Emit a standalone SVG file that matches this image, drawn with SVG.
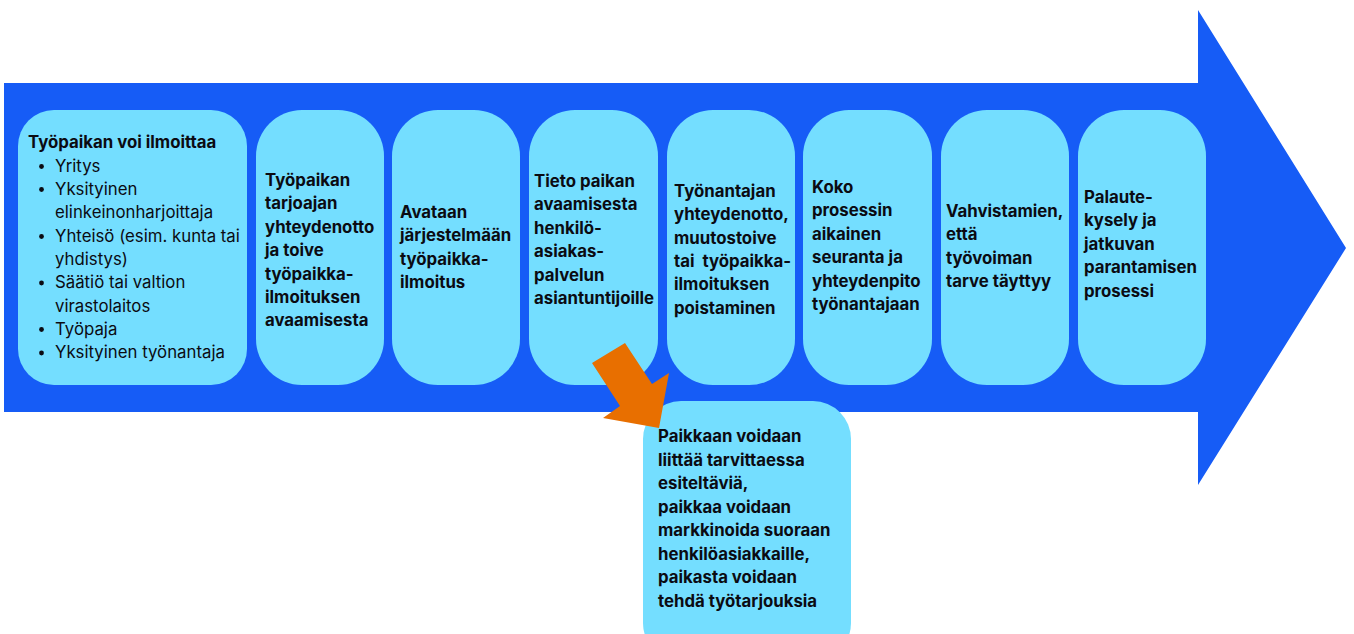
<svg xmlns="http://www.w3.org/2000/svg" width="1354" height="634" viewBox="0 0 1354 634">
<style>
.bg{fill:#ffffff}
.big{fill:#165CF6}
.box{fill:#74DEFF}
.t{font-family:Inter,"Liberation Sans",sans-serif;font-size:16.8px;fill:#0b0b12}
.b{font-weight:700}
.r{font-weight:400}
.or{fill:#E86F00}
</style>
<rect class="bg" x="0" y="0" width="1354" height="634"/>
<g id="main-arrow">
<polygon class="big" points="4,83 1198,83 1198,10 1346,248 1198,485 1198,412 4,412"/>
</g>
<g id="node1">
<rect class="box" x="18" y="110" width="229" height="275" rx="36"/>
<text class="t b" x="28" y="148">Työpaikan voi ilmoittaa</text>
<g class="t r">
<circle cx="41.5" cy="166.5" r="2.4" fill="#0b0b12"/>
<circle cx="41.5" cy="189.5" r="2.4" fill="#0b0b12"/>
<circle cx="41.5" cy="236.5" r="2.4" fill="#0b0b12"/>
<circle cx="41.5" cy="283" r="2.4" fill="#0b0b12"/>
<circle cx="41.5" cy="329.5" r="2.4" fill="#0b0b12"/>
<circle cx="41.5" cy="353" r="2.4" fill="#0b0b12"/>
<text x="55" y="172">Yritys</text>
<text x="55" y="195">Yksityinen</text>
<text x="55" y="218">elinkeinonharjoittaja</text>
<text x="55" y="242">Yhteisö (esim. kunta tai</text>
<text x="55" y="265">yhdistys)</text>
<text x="55" y="288">Säätiö tai valtion</text>
<text x="55" y="312">virastolaitos</text>
<text x="55" y="335">Työpaja</text>
<text x="55" y="358">Yksityinen työnantaja</text>
</g>
</g>
<g id="node2">
<rect class="box" x="256" y="110" width="128" height="275" rx="46"/>
<text class="t b" x="265" y="186">Työpaikan</text>
<text class="t b" x="265" y="209.4">tarjoajan</text>
<text class="t b" x="265" y="232.8">yhteydenotto</text>
<text class="t b" x="265" y="256.2">ja toive</text>
<text class="t b" x="265" y="279.6">työpaikka-</text>
<text class="t b" x="265" y="303">ilmoituksen</text>
<text class="t b" x="265" y="326.4">avaamisesta</text>
</g>
<g id="node3">
<rect class="box" x="392" y="110" width="128" height="275" rx="46"/>
<text class="t b" x="400" y="218">Avataan</text>
<text class="t b" x="400" y="241.4">järjestelmään</text>
<text class="t b" x="400" y="264.8">työpaikka-</text>
<text class="t b" x="400" y="288.2">ilmoitus</text>
</g>
<g id="node4">
<rect class="box" x="529" y="110" width="129" height="275" rx="46"/>
<text class="t b" x="534" y="187">Tieto paikan</text>
<text class="t b" x="534" y="210.4">avaamisesta</text>
<text class="t b" x="534" y="233.8">henkilö-</text>
<text class="t b" x="534" y="257.2">asiakas-</text>
<text class="t b" x="534" y="280.6">palvelun</text>
<text class="t b" x="534" y="304">asiantuntijoille</text>
</g>
<g id="node5">
<rect class="box" x="667" y="110" width="128" height="275" rx="46"/>
<text class="t b" x="674" y="197">Työnantajan</text>
<text class="t b" x="674" y="220.3">yhteydenotto,</text>
<text class="t b" x="674" y="243.6">muutostoive</text>
<text class="t b" x="674" y="266.9" xml:space="preserve">tai  työpaikka-</text>
<text class="t b" x="674" y="290.2">ilmoituksen</text>
<text class="t b" x="674" y="313.5">poistaminen</text>
</g>
<g id="node6">
<rect class="box" x="803" y="110" width="129" height="275" rx="46"/>
<text class="t b" x="812" y="193">Koko</text>
<text class="t b" x="812" y="216.4">prosessin</text>
<text class="t b" x="812" y="239.8">aikainen</text>
<text class="t b" x="812" y="263.2">seuranta ja</text>
<text class="t b" x="812" y="286.6">yhteydenpito</text>
<text class="t b" x="812" y="310">työnantajaan</text>
</g>
<g id="node7">
<rect class="box" x="941" y="110" width="128" height="275" rx="46"/>
<text class="t b" x="946" y="217">Vahvistamien,</text>
<text class="t b" x="946" y="240.4">että</text>
<text class="t b" x="946" y="263.8">työvoiman</text>
<text class="t b" x="946" y="287.2">tarve täyttyy</text>
</g>
<g id="node8">
<rect class="box" x="1078" y="110" width="128" height="275" rx="46"/>
<text class="t b" x="1084" y="203">Palaute-</text>
<text class="t b" x="1084" y="226.4">kysely ja</text>
<text class="t b" x="1084" y="249.8">jatkuvan</text>
<text class="t b" x="1084" y="273.2">parantamisen</text>
<text class="t b" x="1084" y="296.6">prosessi</text>
</g>
<g id="node9">
<rect class="box" x="643" y="401" width="208" height="260" rx="38"/>
<text class="t b" x="658" y="442">Paikkaan voidaan</text>
<text class="t b" x="658" y="465.5">liittää tarvittaessa</text>
<text class="t b" x="658" y="489">esiteltäviä,</text>
<text class="t b" x="658" y="512.5">paikkaa voidaan</text>
<text class="t b" x="658" y="536">markkinoida suoraan</text>
<text class="t b" x="658" y="559.5">henkilöasiakkaille,</text>
<text class="t b" x="658" y="583">paikasta voidaan</text>
<text class="t b" x="658" y="606.5">tehdä työtarjouksia</text>
</g>
<g id="connectors">
<polygon class="or" points="592,363 625,343 652,384 669,373 659,428 603,418 620,406"/>
</g>
</svg>
